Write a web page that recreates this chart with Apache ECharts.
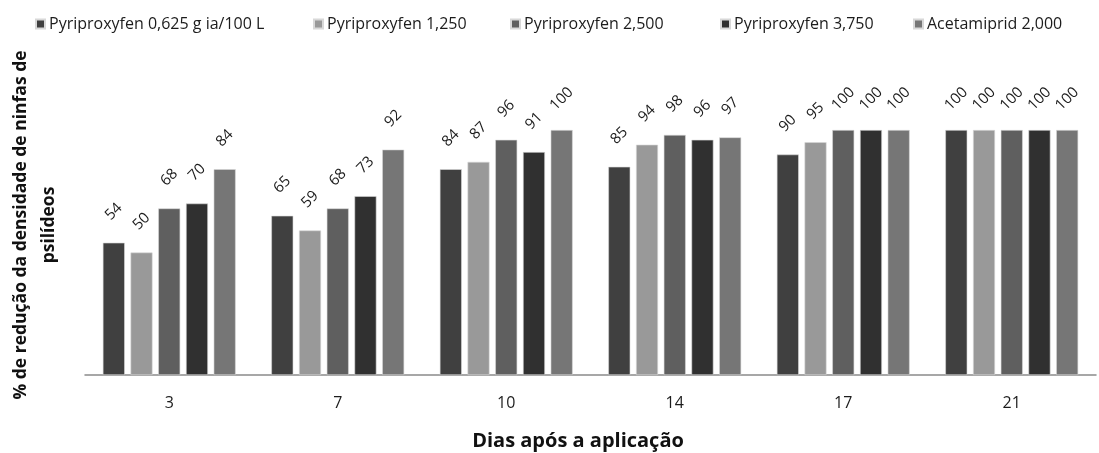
<!DOCTYPE html>
<html>
<head>
<meta charset="utf-8">
<script src="https://cdn.jsdelivr.net/npm/echarts@6/dist/echarts.min.js"></script>
<style>
  html, body { margin: 0; padding: 0; background: #ffffff; }
  #chart { width: 1099px; height: 453px; }
</style>
</head>
<body>
<div id="chart"></div>
<script>
// Days after application
const days = ['3', '7', '10', '14', '17', '21'];

// Treatments
const seriesNames = [
  'Pyriproxyfen 0,625 g ia/100 L',
  'Pyriproxyfen 1,250',
  'Pyriproxyfen 2,500',
  'Pyriproxyfen 3,750',
  'Acetamiprid 2,000'
];

// % reduction in nymph density, one array per treatment
const pyri0625 = [54, 65, 84, 85, 90, 100];
const pyri1250 = [50, 59, 87, 94, 95, 100];
const pyri2500 = [68, 68, 96, 98, 100, 100];
const pyri3750 = [70, 73, 91, 96, 100, 100];
const acet2000 = [84, 92, 100, 97, 100, 100];

const seriesValues = [pyri0625, pyri1250, pyri2500, pyri3750, acet2000];
const colors = ['#404040', '#999999', '#5f5f5f', '#303030', '#767676'];
const legendLeft = [30, 308, 505, 715, 908];

const FONT = '"Open Sans", sans-serif';

const chart = echarts.init(document.getElementById('chart'));

const series = seriesNames.map((name, i) => ({
  name: name,
  type: 'bar',
  data: seriesValues[i],
  barWidth: 22,
  barGap: '26%',
  itemStyle: { color: colors[i], borderColor: '#d8d8d8', borderWidth: 0.6 },
  label: {
    show: true,
    position: 'top',
    distance: 31,
    rotate: 45,
    align: 'center',
    verticalAlign: 'middle',
    color: '#1c1c1c',
    fontSize: 15,
    fontFamily: FONT
  }
}));

const legends = seriesNames.map((name, i) => ({
  data: [name],
  left: legendLeft[i],
  top: 11,
  itemWidth: 9,
  itemHeight: 9,
  itemGap: 0,
  icon: 'rect',
  textStyle: { color: '#1c1c1c', fontSize: 16, fontFamily: FONT, padding: [0, 0, 0, -1] },
  selectedMode: false
}));

chart.setOption({
  animation: false,
  legend: legends,
  grid: { left: 85, right: 3, top: 130, bottom: 78 },
  xAxis: {
    type: 'category',
    data: days,
    axisLine: { lineStyle: { color: '#8a8a8a', width: 1.5 } },
    axisTick: { show: false },
    axisLabel: { color: '#1c1c1c', fontSize: 16, fontFamily: FONT, margin: 20 }
  },
  yAxis: {
    type: 'value',
    min: 0,
    max: 100,
    axisLine: { show: false },
    axisTick: { show: false },
    axisLabel: { show: false },
    splitLine: { show: false }
  },
  title: {
    text: 'Dias após a aplicação',
    left: 573,
    top: 426,
    textAlign: 'center',
    textStyle: { color: '#111111', fontSize: 20, fontWeight: 'bold', fontFamily: FONT }
  },
  graphic: [
    {
      type: 'text',
      x: 21,
      y: 225,
      rotation: Math.PI / 2,
      style: {
        text: '% de redução da densidade de ninfas de',
        fill: '#111111',
        font: 'bold 17.5px ' + FONT,
        align: 'center',
        verticalAlign: 'middle'
      }
    },
    {
      type: 'text',
      x: 49,
      y: 225,
      rotation: Math.PI / 2,
      style: {
        text: 'psilídeos',
        fill: '#111111',
        font: 'bold 17.5px ' + FONT,
        align: 'center',
        verticalAlign: 'middle'
      }
    }
  ],
  series: series
});
</script>
</body>
</html>
